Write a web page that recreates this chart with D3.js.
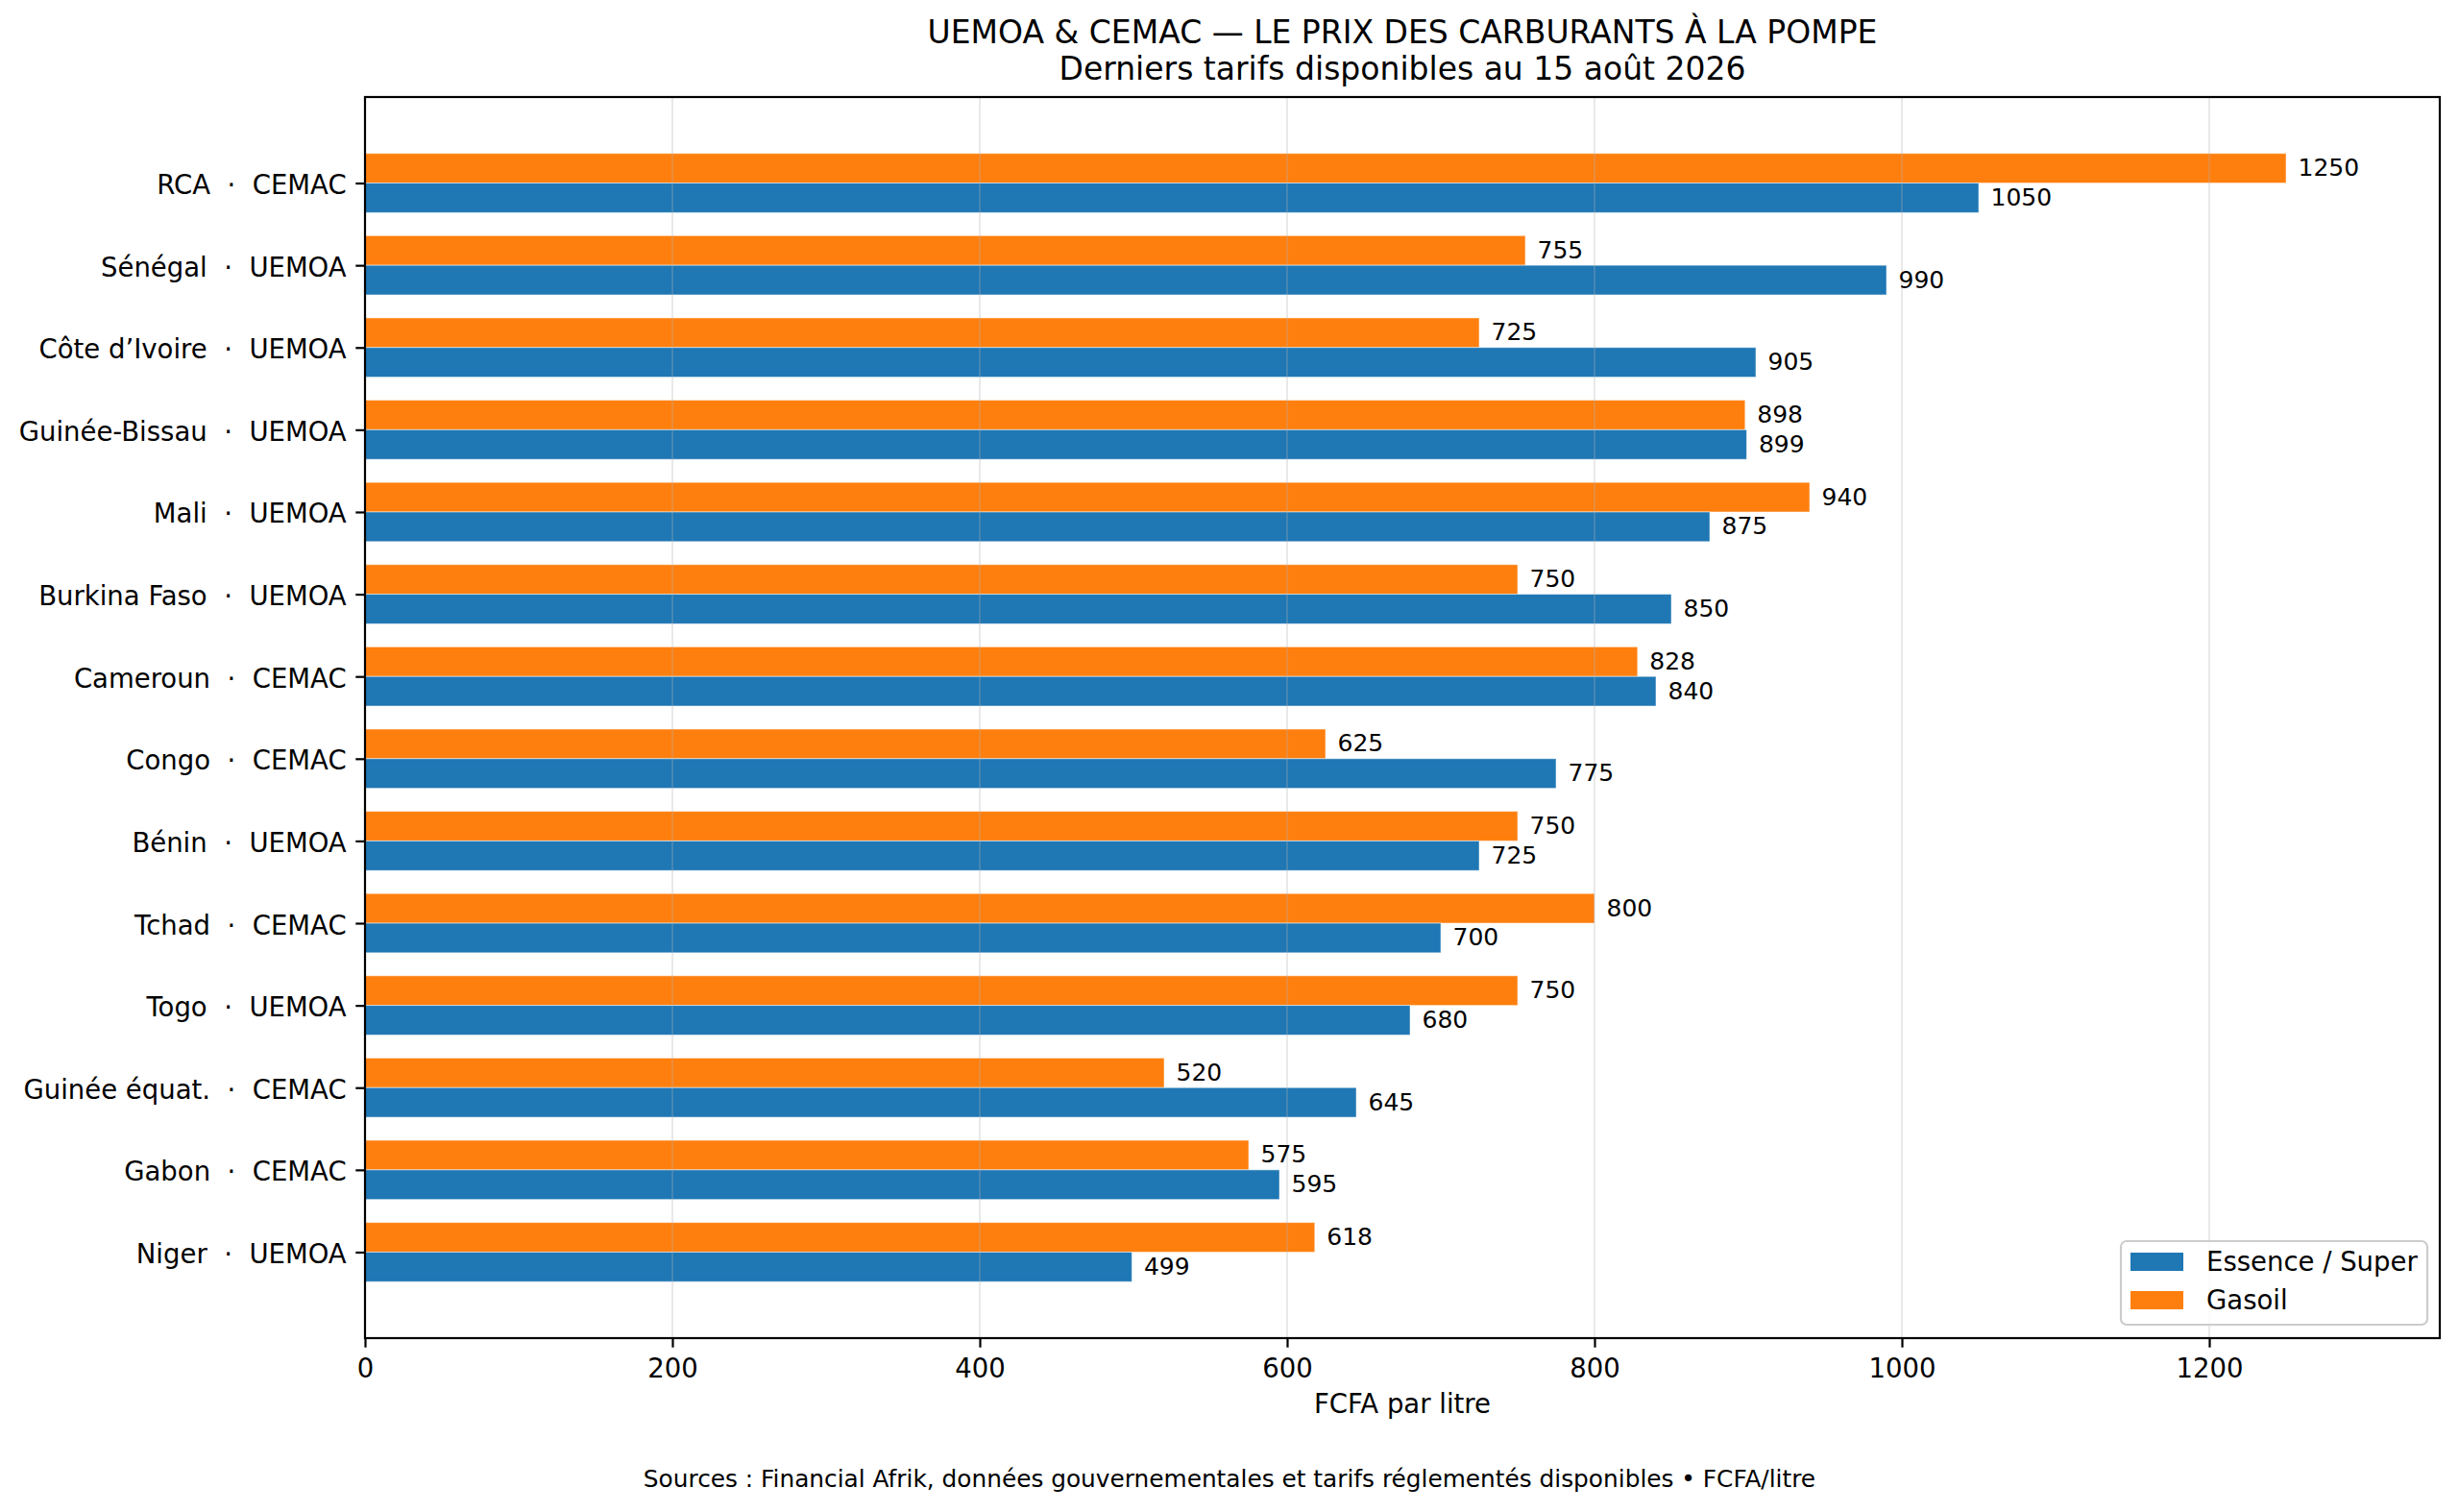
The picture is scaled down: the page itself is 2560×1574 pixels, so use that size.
<!DOCTYPE html>
<html>
<head>
<meta charset="utf-8">
<script src="https://cdn.jsdelivr.net/npm/d3@7"></script>
<style>
  body { margin: 0; background: #fff; }
  svg { font-family: "DejaVu Sans", sans-serif; }
  .tick text { fill: #000; }
</style>
</head>
<body>
<svg id="chart"></svg>
<script>
const countries = ['RCA', 'Sénégal', 'Côte d’Ivoire', 'Guinée-Bissau', 'Mali', 'Burkina Faso', 'Cameroun',
  'Congo', 'Bénin', 'Tchad', 'Togo', 'Guinée équat.', 'Gabon', 'Niger'];
const zones = ['CEMAC', 'UEMOA', 'UEMOA', 'UEMOA', 'UEMOA', 'UEMOA', 'CEMAC',
  'CEMAC', 'UEMOA', 'CEMAC', 'UEMOA', 'CEMAC', 'CEMAC', 'UEMOA'];
const essence = [1050, 990, 905, 899, 875, 850, 840, 775, 725, 700, 680, 645, 595, 499];
const gasoil = [1250, 755, 725, 898, 940, 750, 828, 625, 750, 800, 750, 520, 575, 618];
const xTicks = [0, 200, 400, 600, 800, 1000, 1200];
const seriesNames = ['Essence / Super', 'Gasoil'];
const seriesColors = ['#1f77b4', '#ff7f0e'];

const W = 2560, H = 1574;
const plotLeft = 380, plotRight = 2540, plotTop = 101, plotBottom = 1393;
const barH = 0.36;

const svg = d3.select('#chart').attr('width', W).attr('height', H);

const x = d3.scaleLinear().domain([0, 1350]).range([plotLeft, plotRight]);
const y = d3.scaleLinear().domain([-1.046, 14.046]).range([plotTop, plotBottom]);

// Bars: gasoil above the tick, essence below
const rows = countries.map((c, i) => ({ i, label: `${c}  ·  ${zones[i]}`, ess: essence[i], gas: gasoil[i] }));

const g = svg.append('g');

g.selectAll('.bar-gas')
  .data(rows)
  .enter()
  .append('rect')
  .attr('x', x(0))
  .attr('y', d => y(d.i - barH))
  .attr('width', d => x(d.gas) - x(0))
  .attr('height', d => y(d.i) - y(d.i - barH))
  .attr('fill', seriesColors[1])
  .attr('stroke', '#fff')
  .attr('stroke-opacity', 0.5)
  .attr('stroke-width', 1);

g.selectAll('.bar-ess')
  .data(rows)
  .enter()
  .append('rect')
  .attr('x', x(0))
  .attr('y', d => y(d.i))
  .attr('width', d => x(d.ess) - x(0))
  .attr('height', d => y(d.i + barH) - y(d.i))
  .attr('fill', seriesColors[0])
  .attr('stroke', '#fff')
  .attr('stroke-opacity', 0.5)
  .attr('stroke-width', 1);

// Grid on top, faint
g.selectAll('.grid')
  .data(xTicks)
  .enter()
  .append('line')
  .attr('x1', d => x(d))
  .attr('x2', d => x(d))
  .attr('y1', plotTop)
  .attr('y2', plotBottom)
  .attr('stroke', '#b0b0b0')
  .attr('stroke-opacity', 0.28)
  .attr('stroke-width', 2);

// Value labels
g.selectAll('.lab-gas')
  .data(rows)
  .enter()
  .append('text')
  .attr('x', d => x(d.gas) + 12.5)
  .attr('y', d => y(d.i - barH / 2) + 8)
  .attr('font-size', 25)
  .text(d => d.gas);

g.selectAll('.lab-ess')
  .data(rows)
  .enter()
  .append('text')
  .attr('x', d => x(d.ess) + 12.5)
  .attr('y', d => y(d.i + barH / 2) + 8)
  .attr('font-size', 25)
  .text(d => d.ess);

// Axes
const yAxis = svg.append('g')
  .attr('transform', `translate(${plotLeft},0)`)
  .call(d3.axisLeft(y)
    .tickValues(rows.map(d => d.i))
    .tickFormat(i => rows[i].label)
    .tickSize(9.7)
    .tickPadding(9.7));
yAxis.select('.domain').remove();
yAxis.selectAll('line').attr('stroke', '#000').attr('stroke-width', 2.2);
yAxis.selectAll('text')
  .attr('font-size', 27.5)
  .attr('font-family', '"DejaVu Sans", sans-serif')
  .attr('dy', '0.4em')
  .style('white-space', 'pre');

const xAxis = svg.append('g')
  .attr('transform', `translate(0,${plotBottom})`)
  .call(d3.axisBottom(x)
    .tickValues(xTicks)
    .tickFormat(d3.format('d'))
    .tickSize(9.7)
    .tickPadding(12));
xAxis.select('.domain').remove();
xAxis.selectAll('line').attr('stroke', '#000').attr('stroke-width', 2.2);
xAxis.selectAll('text')
  .attr('font-size', 27.5)
  .attr('font-family', '"DejaVu Sans", sans-serif');

// Frame
svg.append('rect')
  .attr('x', plotLeft)
  .attr('y', plotTop)
  .attr('width', plotRight - plotLeft)
  .attr('height', plotBottom - plotTop)
  .attr('fill', 'none')
  .attr('stroke', '#000')
  .attr('stroke-width', 2.2);

// Titles and notes
const cx = (plotLeft + plotRight) / 2;
svg.append('text')
  .attr('x', cx).attr('y', 45)
  .attr('text-anchor', 'middle')
  .attr('font-size', 33)
  .text('UEMOA & CEMAC — LE PRIX DES CARBURANTS À LA POMPE');
svg.append('text')
  .attr('x', cx).attr('y', 83)
  .attr('text-anchor', 'middle')
  .attr('font-size', 33)
  .text('Derniers tarifs disponibles au 15 août 2026');

svg.append('text')
  .attr('x', cx).attr('y', 1471)
  .attr('text-anchor', 'middle')
  .attr('font-size', 27.5)
  .text('FCFA par litre');

svg.append('text')
  .attr('x', W / 2).attr('y', 1548)
  .attr('text-anchor', 'middle')
  .attr('font-size', 24.8)
  .text('Sources : Financial Afrik, données gouvernementales et tarifs réglementés disponibles • FCFA/litre');

// Legend
const legend = svg.append('g').attr('transform', 'translate(2208,1292)');
legend.append('rect')
  .attr('width', 319)
  .attr('height', 87)
  .attr('rx', 6)
  .attr('fill', '#fff')
  .attr('fill-opacity', 0.8)
  .attr('stroke', '#cccccc')
  .attr('stroke-width', 2.2);

const item = legend.selectAll('.item')
  .data(seriesNames)
  .enter()
  .append('g')
  .attr('transform', (d, i) => `translate(10,${12 + i * 40})`);
item.append('rect')
  .attr('width', 55)
  .attr('height', 19)
  .attr('fill', (d, i) => seriesColors[i]);
item.append('text')
  .attr('x', 79)
  .attr('y', 19)
  .attr('font-size', 27.5)
  .text(d => d);
</script>
</body>
</html>
